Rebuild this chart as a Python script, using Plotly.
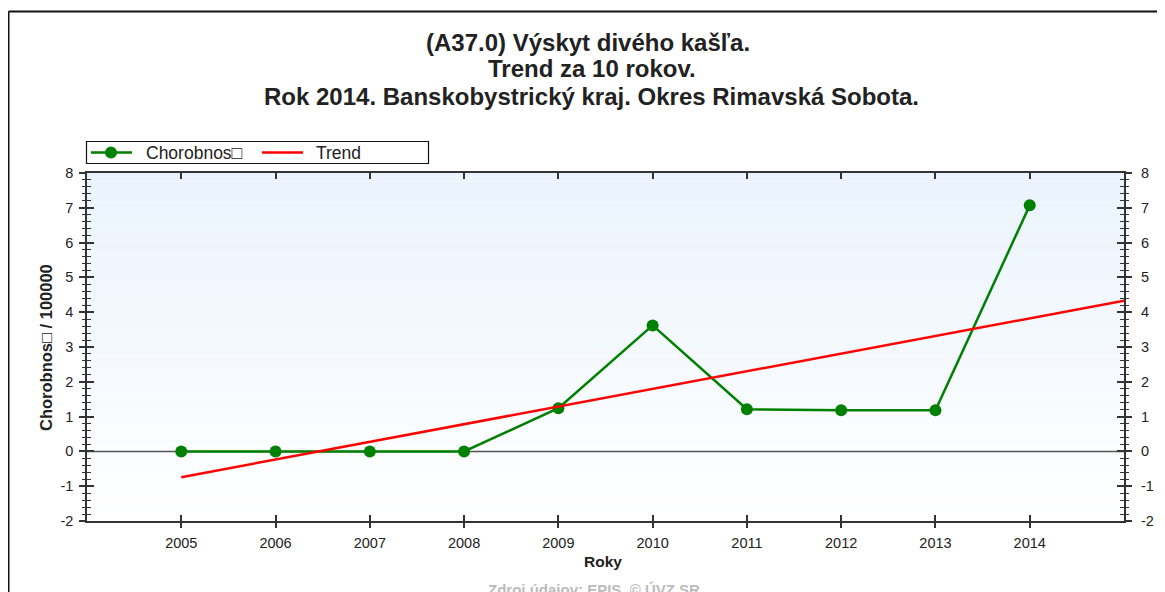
import plotly.graph_objects as go

years = [2005, 2006, 2007, 2008, 2009, 2010, 2011, 2012, 2013, 2014]
chorobnost = [0.0, 0.0, 0.0, 0.0, 1.24, 3.62, 1.21, 1.18, 1.18, 7.07]
trend_x = [2005, 2015]
trend_y = [-0.74, 4.33]
y_ticks = [-2, -1, 0, 1, 2, 3, 4, 5, 6, 7, 8]
y_ticklabels = ["-2", "-1", "0", "1", "2", "3", "4", "5", "6", "7", "8"]

title_lines = ["(A37.0) Výskyt divého kašľa.", "Trend za 10 rokov.",
               "Rok 2014. Banskobystrický kraj. Okres Rimavská Sobota."]
series_name = "Chorobnos\u25a1"
trend_name = "Trend"
y_title = "Chorobnos\u25a1 / 100000"
x_title = "Roky"
source = "Zdroj údajov: EPIS, © ÚVZ SR"

# page has an 8px body margin; figure sized to fit the window exactly
OFF = 8
W, H = 1165 - OFF, 592 - OFF
# plot area in window pixels
L, R, T, B = 87, 1124, 173, 521


def px(xp):
    return (xp - L) / (R - L)


def py(yp):
    return (B - yp) / (B - T)


FONT = "Liberation Sans, Arial, sans-serif"
AX = "#333333"
TXT = "#222222"

fig = go.Figure()

shapes = []
# background gradient bands
n = 40
top = (234, 243, 253)
bot = (255, 255, 255)
for i in range(n):
    f = i / (n - 1)
    c = tuple(round(top[k] + (bot[k] - top[k]) * f) for k in range(3))
    shapes.append(dict(type="rect", xref="x domain", yref="y domain",
                       x0=0, x1=1, y0=1 - (i + 1) / n, y1=1 - i / n,
                       fillcolor="rgb(%d,%d,%d)" % c, line=dict(width=0), layer="below"))
# zero line
shapes.append(dict(type="line", xref="x domain", yref="y", x0=0, x1=1, y0=0, y1=0,
                   line=dict(color="#555555", width=1.5), layer="below"))
# outer frame
shapes.append(dict(type="line", xref="paper", yref="paper", x0=px(8.5), x1=px(1170),
                   y0=py(11.5), y1=py(11.5), line=dict(color="#111111", width=2)))
shapes.append(dict(type="line", xref="paper", yref="paper", x0=px(8.5), x1=px(8.5),
                   y0=py(11.5), y1=py(600), line=dict(color="#111111", width=2)))
# legend box (drawn manually)
shapes.append(dict(type="rect", xref="paper", yref="paper", x0=px(86.5), x1=px(428.5),
                   y0=py(141.5), y1=py(163.5), fillcolor="white",
                   line=dict(color="#111111", width=1.2)))
shapes.append(dict(type="line", xref="paper", yref="paper", x0=px(91), x1=px(132),
                   y0=py(152.5), y1=py(152.5), line=dict(color="#008000", width=2.5)))
shapes.append(dict(type="circle", xref="paper", yref="paper", x0=px(105), x1=px(117),
                   y0=py(146.5), y1=py(158.5), fillcolor="#008000", line=dict(width=0)))
shapes.append(dict(type="line", xref="paper", yref="paper", x0=px(262), x1=px(303),
                   y0=py(152.5), y1=py(152.5), line=dict(color="#ff0000", width=2.5)))

fig.add_trace(go.Scatter(x=years, y=chorobnost, mode="lines+markers", name=series_name,
                         line=dict(color="#008000", width=2.5),
                         marker=dict(color="#008000", size=12), showlegend=False))
fig.add_trace(go.Scatter(x=trend_x, y=trend_y, mode="lines", name=trend_name,
                         line=dict(color="#ff0000", width=2.5), showlegend=False))
# invisible helpers so the overlay axes (crossing ticks, right labels) are drawn
fig.add_trace(go.Scatter(x=years, y=chorobnost, xaxis="x2", yaxis="y2", mode="lines",
                         line=dict(width=0), opacity=0, showlegend=False, hoverinfo="skip"))
fig.add_trace(go.Scatter(x=years, y=chorobnost, xaxis="x", yaxis="y3", mode="lines",
                         line=dict(width=0), opacity=0, showlegend=False, hoverinfo="skip"))

tickfont = dict(family=FONT, size=14.5, color=TXT)
xr = [2004, 2015]
yr = [-2, 8]

annotations = []
for txt, yc, xc in zip(title_lines, [42, 69, 96], [588, 592, 591]):
    annotations.append(dict(text=txt, xref="paper", yref="paper", x=px(xc), y=py(yc),
                            xanchor="center", yanchor="middle", showarrow=False,
                            font=dict(family=FONT, size=24, color=TXT, weight=600)))
annotations += [
    dict(text=series_name, xref="paper", yref="paper", x=px(144), y=py(152.5),
         xanchor="left", yanchor="middle", showarrow=False,
         font=dict(family=FONT, size=17.5, color=TXT)),
    dict(text=trend_name, xref="paper", yref="paper", x=px(314), y=py(152.5),
         xanchor="left", yanchor="middle", showarrow=False,
         font=dict(family=FONT, size=17.5, color=TXT)),
    dict(text="<b>" + y_title + "</b>", xref="paper", yref="paper", x=px(46), y=py(348),
         xanchor="center", yanchor="middle", textangle=-90, showarrow=False,
         font=dict(family=FONT, size=16.5, color=TXT)),
    dict(text="<b>" + x_title + "</b>", xref="paper", yref="paper", x=px(603), y=py(561),
         xanchor="center", yanchor="middle", showarrow=False,
         font=dict(family=FONT, size=15.5, color=TXT)),
    dict(text="<b>" + source + "</b>", xref="paper", yref="paper", x=px(594), y=py(579),
         xanchor="center", yanchor="top", showarrow=False,
         font=dict(family=FONT, size=15, color="#bbbbbb")),
]

fig.update_layout(
    width=W, height=H,
    margin=dict(l=L - OFF, r=W - (R - OFF), t=T - OFF, b=H - (B - OFF), autoexpand=False, pad=0),
    paper_bgcolor="white", plot_bgcolor="rgba(0,0,0,0)",
    shapes=shapes, annotations=annotations,
    showlegend=False,
    xaxis=dict(range=xr, tickvals=years, ticktext=[str(y) for y in years],
               ticks="inside", ticklen=6, tickcolor=AX, tickwidth=1.5,
               showline=True, linecolor=AX, linewidth=1.5, mirror="ticks",
               showgrid=False, zeroline=False, tickfont=tickfont, ticklabelstandoff=8),
    xaxis2=dict(range=xr, overlaying="x", anchor="y", side="bottom",
                tickvals=years, showticklabels=False, ticks="outside", ticklen=6,
                tickcolor=AX, tickwidth=1.5, showgrid=False, zeroline=False, showline=False),
    yaxis=dict(range=yr, tickvals=y_ticks, ticktext=y_ticklabels,
               ticks="inside", ticklen=7, tickcolor=AX, tickwidth=1.5,
               minor=dict(ticks="inside", dtick=0.2, ticklen=4, tickcolor=AX, tickwidth=1),
               showline=True, linecolor=AX, linewidth=1.5, mirror="ticks",
               showgrid=False, zeroline=False, tickfont=tickfont, ticklabelstandoff=9),
    yaxis2=dict(range=yr, overlaying="y", anchor="x2", side="left", tickvals=y_ticks,
                showticklabels=False, ticks="outside", ticklen=7, tickcolor=AX, tickwidth=1.5,
                minor=dict(ticks="outside", dtick=0.2, ticklen=4, tickcolor=AX, tickwidth=1),
                showgrid=False, zeroline=False, showline=False),
    yaxis3=dict(range=yr, overlaying="y", anchor="x", side="right",
                tickvals=y_ticks, ticktext=y_ticklabels,
                ticks="outside", ticklen=7, tickcolor=AX, tickwidth=1.5,
                minor=dict(ticks="outside", dtick=0.2, ticklen=4, tickcolor=AX, tickwidth=1),
                showgrid=False, zeroline=False, showline=False, tickfont=tickfont,
                ticklabelstandoff=6),
)

fig.write_html("out.html")
